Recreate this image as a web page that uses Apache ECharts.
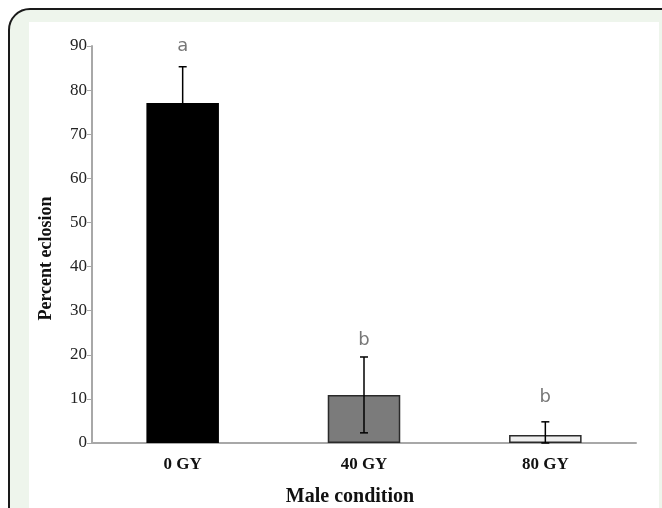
<!DOCTYPE html>
<html>
<head>
<meta charset="utf-8">
<script src="https://cdn.jsdelivr.net/npm/echarts@6/dist/echarts.min.js"></script>
<style>
  html, body { margin: 0; padding: 0; background: #fff; }
  #frame {
    position: absolute; left: 8px; top: 8px; width: 680px; height: 540px;
    border: 2px solid #1a1a1a; border-top-left-radius: 22px;
    background: #eef5ec; box-sizing: border-box;
  }
  #panel {
    position: absolute; left: 29px; top: 22px; width: 630px; height: 500px;
    background: #fff;
  }
  #main { position: absolute; left: 0; top: 0; width: 662px; height: 508px; }
</style>
</head>
<body>
<div id="frame"></div>
<div id="panel"></div>
<div id="main"></div>
<script>
// 数据
var categories = ['0 GY', '40 GY', '80 GY'];
var means = [77.1, 10.9, 1.8];
var errors = [8.2, 8.6, 3.0];
var letters = ['a', 'b', 'b'];
var letterPos = [90, 23.2, 10.4];
var yTicks = [0, 10, 20, 30, 40, 50, 60, 70, 80, 90];

var barColors = ['#000000', '#7b7b7b', '#eeeeee'];

var myChart = echarts.init(document.getElementById('main'));

var barData = means.map(function (v, i) {
    return {
        value: v,
        itemStyle: { color: barColors[i], borderColor: '#2a2a2a', borderWidth: i === 0 ? 0 : 1.5 }
    };
});

var errData = means.map(function (v, i) {
    return [i, Math.max(0, v - errors[i]), v + errors[i]];
});

var letterData = letters.map(function (t, i) {
    return { value: [i, letterPos[i]], name: t };
});

var serif = '"Liberation Serif", "Times New Roman", serif';

var option = {
    animation: false,
    backgroundColor: 'transparent',
    grid: { left: 92, right: 26, top: 46, bottom: 65, outerBoundsMode: 'none' },
    xAxis: {
        type: 'category',
        data: categories,
        name: 'Male condition',
        nameLocation: 'middle',
        nameGap: 44,
        nameTextStyle: { fontFamily: serif, fontWeight: 'bold', fontSize: 20, color: '#111', padding: [0, 28, 0, 0] },
        axisLine: { lineStyle: { color: '#a8a8a8', width: 2 } },
        axisTick: { alignWithLabel: true, length: 3, lineStyle: { color: '#d6d6d6' } },
        axisLabel: { fontFamily: serif, fontWeight: 'bold', fontSize: 17, color: '#111', margin: 13 }
    },
    yAxis: {
        type: 'value',
        min: 0,
        max: 90,
        interval: 10,
        name: 'Percent eclosion',
        nameLocation: 'middle',
        nameGap: 37,
        nameTextStyle: { fontFamily: serif, fontWeight: 'bold', fontSize: 18, color: '#111', padding: [0, 28, 0, 0] },
        axisLine: { show: true, lineStyle: { color: '#a8a8a8', width: 2 } },
        axisTick: { show: true, length: 5, lineStyle: { color: '#a8a8a8' } },
        splitLine: { show: false },
        axisLabel: {
            fontFamily: serif, fontSize: 17, color: '#222', margin: 5,
            formatter: function (v) { return yTicks.indexOf(v) >= 0 ? v : ''; }
        }
    },
    series: [
        {
            type: 'bar',
            data: barData,
            barWidth: '40%'
        },
        {
            type: 'custom',
            data: errData,
            z: 5,
            renderItem: function (params, api) {
                var lo = api.coord([api.value(0), api.value(1)]);
                var hi = api.coord([api.value(0), api.value(2)]);
                var cap = 4;
                var st = { stroke: '#000', lineWidth: 1.5 };
                return {
                    type: 'group',
                    children: [
                        { type: 'line', shape: { x1: hi[0], y1: hi[1], x2: lo[0], y2: lo[1] }, style: st },
                        { type: 'line', shape: { x1: hi[0] - cap, y1: hi[1], x2: hi[0] + cap, y2: hi[1] }, style: st },
                        { type: 'line', shape: { x1: lo[0] - cap, y1: lo[1], x2: lo[0] + cap, y2: lo[1] }, style: st }
                    ]
                };
            }
        },
        {
            type: 'scatter',
            data: letterData,
            symbolSize: 0,
            label: {
                show: true,
                position: 'inside',
                formatter: '{b}',
                fontFamily: '"DejaVu Sans", sans-serif',
                fontSize: 18,
                color: '#555'
            }
        }
    ]
};

myChart.setOption(option);
</script>
</body>
</html>
